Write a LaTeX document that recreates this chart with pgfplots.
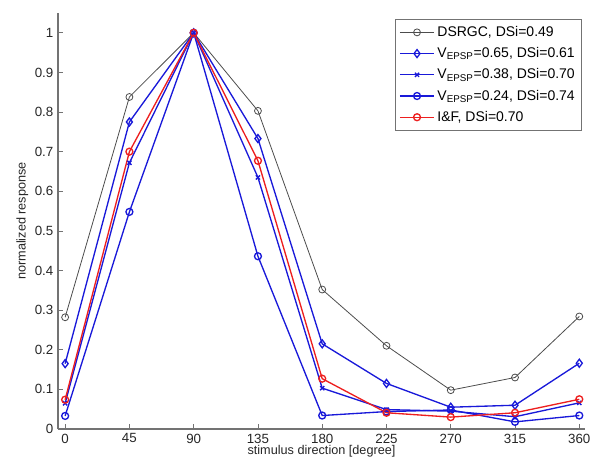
\documentclass[border=0pt]{standalone}
\usepackage{pgfplots}
\pgfplotsset{compat=1.18}
\usepackage{fontspec}
\setmainfont{Liberation Sans}
\setsansfont{Liberation Sans}
\definecolor{mblue}{rgb}{0.1,0.1,0.85}
\definecolor{mred}{rgb}{0.93,0.12,0.12}
\definecolor{mgray}{rgb}{0.3,0.3,0.3}
\definecolor{axgray}{rgb}{0.45,0.45,0.45}
\begin{document}
\begin{tikzpicture}
\begin{axis}[name=ax,
  scale only axis, width=395.25pt, height=312pt,
  xmin=-5, xmax=364, ymin=0, ymax=1.05,
  axis x line*=bottom, axis y line*=left,
  axis line style={axgray, line width=0.8pt},
  tick align=inside, tick style={axgray, line width=0.6pt}, major tick length=4pt,
  xtick={0,45,90,135,180,225,270,315,360},
  ytick={0,0.1,0.2,0.3,0.4,0.5,0.6,0.7,0.8,0.9,1},
  yticklabels={0,0.1,0.2,0.3,0.4,0.5,0.6,0.7,0.8,0.9,1},
  xticklabels={0,45,90,135,180,225,270,315,360},
  ticklabel style={font=\fontsize{10}{12}\selectfont, text=black!85},
  label style={font=\fontsize{9.5}{11}\selectfont, text=black!85},
  xlabel={stimulus direction [degree]},
  ylabel={normalized response},
  xlabel style={yshift=5pt},
  ylabel style={yshift=-2pt},
  legend style={at={(0.994,0.985)}, anchor=north east, draw=axgray, line width=0.6pt,
    font=\fontsize{10.5}{12}\selectfont, cells={anchor=west}, row sep=2.8pt,
    inner sep=3pt},
  legend cell align=left,
  legend image code/.code={\draw[mark repeat=2,mark phase=2] plot coordinates {(0cm,0cm) (0.45cm,0cm) (0.9cm,0cm)};},
  every axis plot/.append style={mark size=2.6pt},
]
\addplot[mgray, line width=0.6pt, mark=o] coordinates {
(0,0.282) (45,0.838) (90,1) (135,0.803) (180,0.352) (225,0.21) (270,0.098) (315,0.13) (360,0.284)};
\addlegendentry{DSRGC, DSi=0.49}
\addplot[mblue, line width=1pt, mark=diamond, mark size=3pt] coordinates {
(0,0.165) (45,0.775) (90,1) (135,0.733) (180,0.215) (225,0.115) (270,0.055) (315,0.06) (360,0.166)};
\addlegendentry{V$_{\mathrm{EPSP}}$=0.65, DSi=0.61}
\addplot[mblue, line width=1pt, mark=x, mark size=2.2pt] coordinates {
(0,0.065) (45,0.672) (90,1) (135,0.635) (180,0.103) (225,0.049) (270,0.045) (315,0.031) (360,0.066)};
\addlegendentry{V$_{\mathrm{EPSP}}$=0.38, DSi=0.70}
\addplot[mblue, line width=1pt, mark=o] coordinates {
(0,0.033) (45,0.548) (90,1) (135,0.436) (180,0.034) (225,0.044) (270,0.048) (315,0.018) (360,0.034)};
\addlegendentry{V$_{\mathrm{EPSP}}$=0.24, DSi=0.74}
\addplot[mred, line width=1pt, mark=o] coordinates {
(0,0.074) (45,0.70) (90,1) (135,0.677) (180,0.127) (225,0.041) (270,0.03) (315,0.041) (360,0.075)};
\addlegendentry{I\&F, DSi=0.70}
\end{axis}
\pgfresetboundingbox
\path ([shift={(-43.5pt,-26.25pt)}]ax.south west) rectangle ([shift={(406.5pt,321.75pt)}]ax.south west);
\end{tikzpicture}
\end{document}
